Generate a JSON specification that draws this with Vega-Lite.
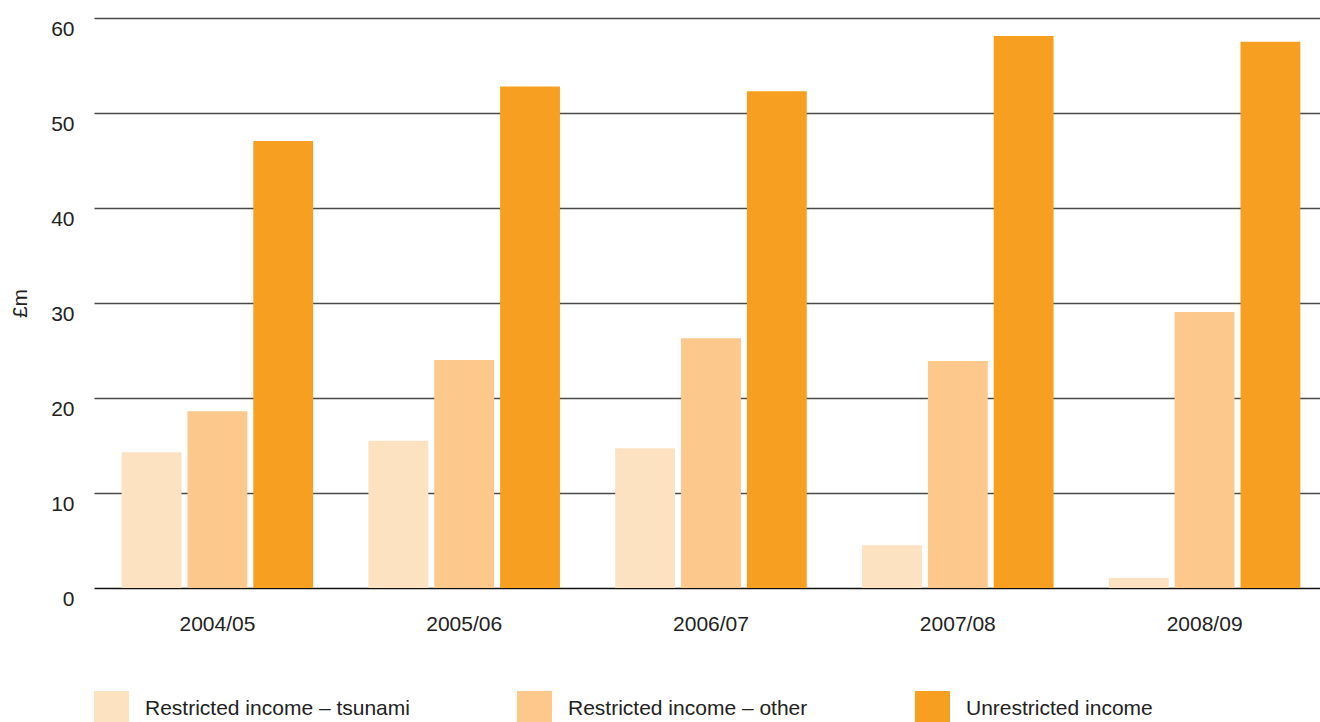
{
  "$schema": "https://vega.github.io/schema/vega-lite/v6.json",
  "width": 1226,
  "height": 570,
  "autosize": {"type": "none"},
  "padding": {"left": 94, "top": 18, "right": 0, "bottom": 134},
  "background": "white",
  "config": {
    "view": {"stroke": null},
    "font": "Liberation Sans",
    "axis": {"labelFont": "Liberation Sans", "titleFont": "Liberation Sans", "labelColor": "#222222", "titleColor": "#222222"},
    "legend": {"labelFont": "Liberation Sans", "labelColor": "#222222"}
  },
  "data": {
    "values": [
      {"year": "2004/05", "type": "Restricted income – tsunami", "value": 14.3},
      {"year": "2004/05", "type": "Restricted income – other", "value": 18.6},
      {"year": "2004/05", "type": "Unrestricted income", "value": 47.05},
      {"year": "2005/06", "type": "Restricted income – tsunami", "value": 15.5},
      {"year": "2005/06", "type": "Restricted income – other", "value": 24.0},
      {"year": "2005/06", "type": "Unrestricted income", "value": 52.8},
      {"year": "2006/07", "type": "Restricted income – tsunami", "value": 14.7},
      {"year": "2006/07", "type": "Restricted income – other", "value": 26.3},
      {"year": "2006/07", "type": "Unrestricted income", "value": 52.3},
      {"year": "2007/08", "type": "Restricted income – tsunami", "value": 4.5},
      {"year": "2007/08", "type": "Restricted income – other", "value": 23.9},
      {"year": "2007/08", "type": "Unrestricted income", "value": 58.1},
      {"year": "2008/09", "type": "Restricted income – tsunami", "value": 1.05},
      {"year": "2008/09", "type": "Restricted income – other", "value": 29.05},
      {"year": "2008/09", "type": "Unrestricted income", "value": 57.5}
    ]
  },
  "mark": {"type": "bar"},
  "encoding": {
    "x": {
      "field": "year",
      "type": "nominal",
      "scale": {"paddingInner": 0, "paddingOuter": 0, "range": [0, 1234]},
      "axis": {
        "title": null,
        "labelAngle": 0,
        "labelFontSize": 21,
        "labelPadding": 25,
        "labelBaseline": "top",
        "domain": false,
        "ticks": false,
        "grid": false
      }
    },
    "xOffset": {
      "field": "type",
      "type": "nominal",
      "sort": ["Restricted income – tsunami", "Restricted income – other", "Unrestricted income"],
      "scale": {"paddingInner": 0.091, "paddingOuter": 0.42}
    },
    "y": {
      "field": "value",
      "type": "quantitative",
      "scale": {"domain": [0, 60], "nice": false},
      "axis": {
        "title": "£m",
        "titleFontSize": 21,
        "titleFontWeight": "normal",
        "titleX": -74,
        "titleY": 285,
        "titleAngle": -90,
        "titleAlign": "center",
        "titleBaseline": "middle",
        "values": [0, 10, 20, 30, 40, 50, 60],
        "labelFontSize": 21,
        "labelPadding": 20,
        "labelBaseline": "top",
        "domain": false,
        "ticks": false,
        "grid": true,
        "gridColor": {"condition": {"test": "datum.value === 0", "value": "#111111"}, "value": "#4a4a4a"},
        "gridWidth": 1.4
      }
    },
    "color": {
      "field": "type",
      "type": "nominal",
      "sort": ["Restricted income – tsunami", "Restricted income – other", "Unrestricted income"],
      "scale": {
        "domain": ["Restricted income – tsunami", "Restricted income – other", "Unrestricted income"],
        "range": ["#fde2c2", "#fdc88b", "#f79f20"]
      },
      "legend": {
        "title": null,
        "orient": "none",
        "legendX": 0,
        "legendY": 673,
        "direction": "horizontal",
        "columns": 3,
        "columnPadding": 107,
        "symbolType": "square",
        "symbolSize": 1225,
        "symbolStrokeWidth": 0,
        "symbolOpacity": 1,
        "labelFontSize": 21,
        "labelOffset": 16,
        "labelLimit": 400,
        "padding": 0
      }
    }
  }
}
